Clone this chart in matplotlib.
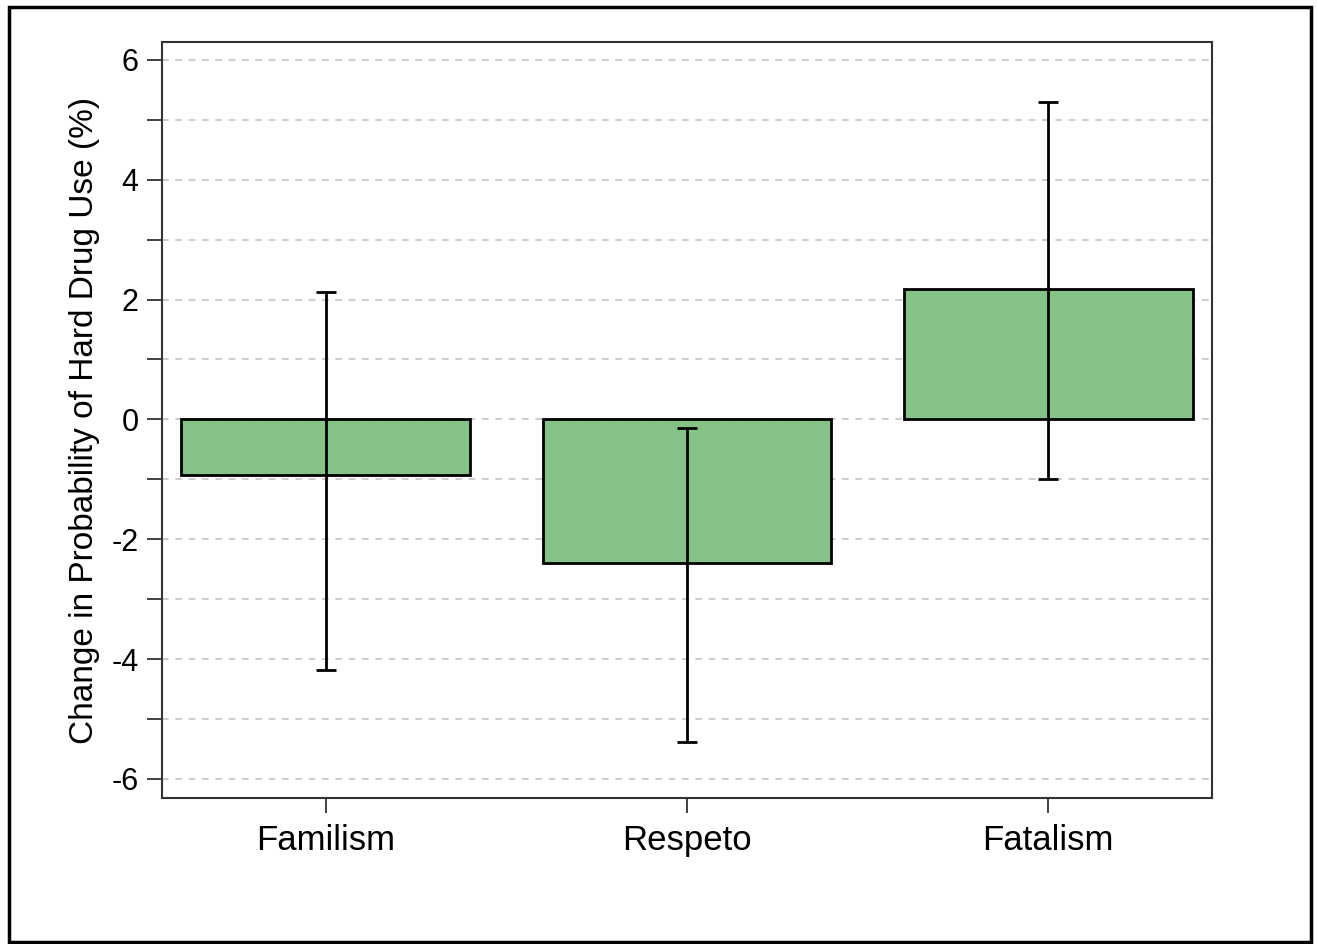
import matplotlib.pyplot as plt
import numpy as np
from matplotlib.patches import Rectangle

plt.rcParams["font.family"] = ["Liberation Sans", "DejaVu Sans"]
plt.rcParams["axes.unicode_minus"] = False

categories = ["Familism", "Respeto", "Fatalism"]
effects = [-0.93, -2.40, 2.18]
ci_low = [-4.18, -5.38, -0.99]
ci_high = [2.12, -0.14, 5.30]

x = np.arange(len(categories))
effects_arr = np.array(effects)
yerr = np.vstack([effects_arr - np.array(ci_low), np.array(ci_high) - effects_arr])

fig = plt.figure(figsize=(13.18, 9.44), dpi=100)
ax = fig.add_axes([162 / 1318, 1 - 798 / 944, (1212 - 162) / 1318, (798 - 42) / 944])

ax.bar(x, effects, width=0.8, color="#84C285", edgecolor="black", linewidth=2, zorder=2)
ax.errorbar(x, effects, yerr=yerr, fmt="none", ecolor="black", elinewidth=2,
            capsize=7, capthick=2, zorder=3)

ax.set_xlim(-0.454, 2.454)
ax.set_ylim(-6.32, 6.3)
ax.set_yticks(np.arange(-6, 7, 2))
ax.set_yticks(np.arange(-5, 7, 2), minor=True)
ax.set_xticks(x)
ax.set_xticklabels(categories, fontsize=25)
ax.tick_params(axis="y", which="both", length=11, width=1.3, labelsize=22, pad=6, colors="#333333",
               labelcolor="black")
ax.tick_params(axis="x", length=11, width=1.3, pad=8, colors="#333333", labelcolor="black")
ax.grid(axis="y", which="both", linestyle=(0, (4, 4)), color="#C4C4C4", linewidth=1.2, zorder=0)
ax.set_axisbelow(True)
for sp in ax.spines.values():
    sp.set_linewidth(1.5)
    sp.set_color("#333333")

ax.set_ylabel("Change in Probability of Hard Drug Use (%)", fontsize=24, labelpad=8)

# outer frame around the whole figure
fig.add_artist(Rectangle((9 / 1318, 2 / 944), 1302 / 1318, 935 / 944,
                         transform=fig.transFigure, fill=False, edgecolor="black", linewidth=2.5))

fig.savefig("out.png", dpi=100)
